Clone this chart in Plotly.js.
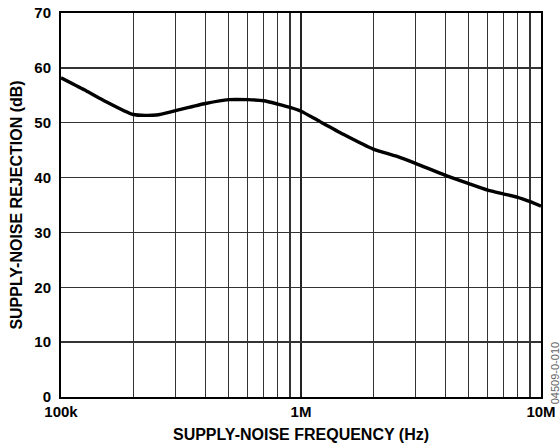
<!DOCTYPE html>
<html>
<head>
<meta charset="utf-8">
<script src="https://cdn.plot.ly/plotly-3.0.1.min.js"></script>
<style>html,body{margin:0;padding:0;background:#fff;}#chart{width:560px;height:447px;}</style>
</head>
<body>
<div id="chart"></div>
<script>
var freqHz = [1e5, 1.25e5, 1.5e5, 2e5, 2.5e5, 3e5, 4e5, 5e5, 6e5, 7e5, 8e5, 9e5, 1e6, 1.2e6, 1.5e6, 2e6, 2.5e6, 3e6, 4e6, 5e6, 6e6, 7e6, 8e6, 9e6, 1e7];
var rejectionDb = [58.2, 56.0, 54.1, 51.5, 51.4, 52.2, 53.5, 54.2, 54.2, 54.0, 53.4, 52.8, 52.1, 50.2, 47.9, 45.2, 43.9, 42.6, 40.4, 38.9, 37.7, 37.0, 36.4, 35.6, 34.8];
var xMajorVals = [1e5, 1e6, 1e7];
var xMajorText = ['100k', '1M', '10M'];
var xMinorVals = [2e5,3e5,4e5,5e5,6e5,7e5,8e5,9e5,2e6,3e6,4e6,5e6,6e6,7e6,8e6,9e6];
var yTickVals = [0,10,20,30,40,50,60,70];

var fam = '"Liberation Sans", Arial, sans-serif';
var trace = {
  x: freqHz, y: rejectionDb, type: 'scatter', mode: 'lines',
  line: {color: '#000', width: 3.4, shape: 'spline', smoothing: 0.6},
  hoverinfo: 'skip'
};
var layout = {
  width: 560, height: 447,
  margin: {l: 61, r: 19, t: 13, b: 50},
  paper_bgcolor: '#fff', plot_bgcolor: '#fff',
  showlegend: false,
  font: {family: fam, size: 15, color: '#000'},
  xaxis: {
    type: 'log', range: [5, 7],
    tickmode: 'array', tickvals: xMajorVals, ticktext: xMajorText,
    ticks: '', showgrid: true, gridcolor: '#222', gridwidth: 2,
    minor: {tickmode: 'array', tickvals: xMinorVals, showgrid: true, gridcolor: '#333', gridwidth: 1.2, ticks: ''},
    showline: true, mirror: true, linecolor: '#000', linewidth: 2,
    zeroline: false,
    tickfont: {family: fam, size: 15, color: '#000', weight: 'bold'},
    ticklabelstandoff: 0,
    title: {text: 'SUPPLY-NOISE FREQUENCY (Hz)', font: {family: fam, size: 16, color: '#000', weight: 'bold'}, standoff: 10}
  },
  yaxis: {
    range: [0, 70], tickmode: 'array', tickvals: yTickVals,
    ticks: '', showgrid: true, gridcolor: '#333', gridwidth: 1.3,
    showline: true, mirror: true, linecolor: '#000', linewidth: 2,
    zeroline: false,
    tickfont: {family: fam, size: 15, color: '#000', weight: 'bold'},
    ticklabelstandoff: 5,
    title: {text: 'SUPPLY-NOISE REJECTION (dB)', font: {family: fam, size: 16, color: '#000', weight: 'bold'}, standoff: 8}
  },
  annotations: [{
    xref: 'paper', yref: 'paper', x: 1.028, y: 0.063, xanchor: 'center', yanchor: 'middle',
    text: '04509-0-010', textangle: -90, showarrow: false,
    font: {family: fam, size: 11, color: '#666'}
  }]
};
Plotly.newPlot('chart', [trace], layout, {displayModeBar: false, staticPlot: true});
</script>
</body>
</html>
